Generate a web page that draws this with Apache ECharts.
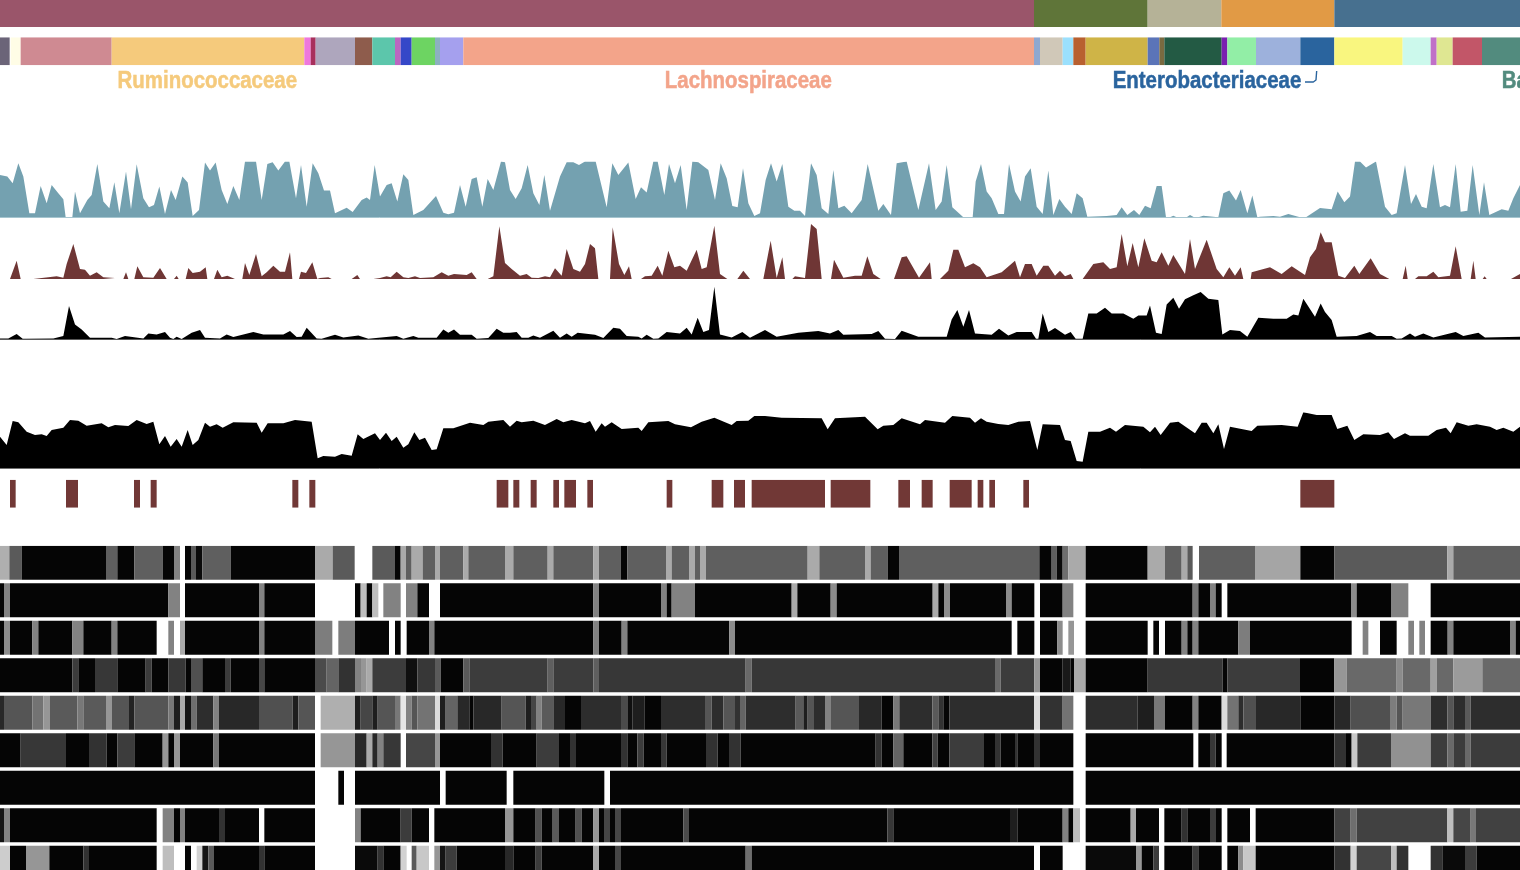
<!DOCTYPE html>
<html><head><meta charset="utf-8">
<style>html,body{margin:0;padding:0;background:#fff;overflow:hidden}#c{width:1520px;height:870px;filter:blur(.55px)}</style>
<script src="https://cdn.jsdelivr.net/npm/echarts@6/dist/echarts.min.js"></script>
</head><body><div id="c"></div>
<script>
const phylumEnds=[3102,3443,3664,4003,4560];
const phylumColors=['#9a556a','#5f7539','#b5b297','#e19a45','#47708f'];
const familySegments=[[0,29],[32,62],[62,335],[335,913],[913,932],[932,947],[947,1065],[1065,1117],[1117,1185],[1185,1202],[1202,1235],[1235,1305],[1305,1320],[1320,1390],[1390,3102],[3102,3120],[3120,3188],[3188,3220],[3220,3257],[3257,3443],[3443,3478],[3478,3493],[3493,3665],[3665,3682],[3682,3768],[3768,3901],[3901,4003],[4003,4208],[4208,4292],[4292,4310],[4310,4358],[4358,4446],[4446,4560]];
const familyColors=['#6b6478','#fffde6','#cf8a92','#f5ca7c','#ee77dd','#a8305c','#aea6bd','#8e5c4c','#5cc6ab','#bb66c0','#3547c8','#6dd462','#8cb0c0','#a5a0ee','#f3a48a','#8fa8d0','#d0c8b8','#9be0fd','#b86030','#cfb447','#5b74b8','#7a6a40','#235a44','#7a20b0','#92eea6','#9db1dc','#2a649e','#f9f67f','#ccf9ec','#c070c8','#dfe792','#c25668','#528b7e'];
const labelNames=['Ruminococcaceae','Lachnospiraceae','Enterobacteriaceae','Ba'];
const labelAnchors=[622,2245,3621,4505];
const labelColors=['#f5ca7c','#f3a48a','#2a649e','#528b7e'];
const labelAligns=['center','center','center','left'];
const hookLine=[[3915,14],[3940,14],[3948,12],[3950,3]];
const tealSeries=[[0,127],[22,122],[38,102],[55,162],[70,122],[88,12],[105,12],[122,94],[140,42],[155,97],[175,72],[190,54],[197,0],[207,null],[217,0],[225,77],[240,12],[262,52],[275,67],[292,160],[310,47],[328,27],[343,105],[358,12],[378,137],[393,24],[410,159],[430,57],[447,30],[462,37],[478,92],[495,10],[513,82],[527,52],[547,122],[563,104],[578,4],[597,22],[615,164],[630,140],[647,164],[665,82],[682,40],[700,94],[718,52],[735,167],[768,167],[785,52],[802,160],[818,165],[835,140],[855,167],[868,167],[888,57],[903,157],[920,32],[938,162],[955,132],[972,80],[990,80],[1005,12],[1040,29],[1058,16],[1085,52],[1100,59],[1110,52],[1124,157],[1140,62],[1160,97],[1175,102],[1192,47],[1210,129],[1225,112],[1240,7],[1270,22],[1308,64],[1330,14],[1345,9],[1362,14],[1380,97],[1397,32],[1415,115],[1430,120],[1447,32],[1463,115],[1480,82],[1503,167],[1515,165],[1530,82],[1547,55],[1565,87],[1583,157],[1600,72],[1618,37],[1633,127],[1650,20],[1680,122],[1700,165],[1720,165],[1737,157],[1755,167],[1787,167],[1820,30],[1837,162],[1855,127],[1885,164],[1907,55],[1923,90],[1940,74],[1960,167],[1973,167],[1993,67],[2007,160],[2025,102],[2042,157],[2060,22],[2077,167],[2095,165],[2125,142],[2145,52],[2162,162],[2180,117],[2197,34],[2213,30],[2229,147],[2245,42],[2263,4],[2280,12],[2297,112],[2313,162],[2330,107],[2347,160],[2365,32],[2383,20],[2400,20],[2415,4],[2433,162],[2450,127],[2465,27],[2485,10],[2500,142],[2515,27],[2533,35],[2555,12],[2585,52],[2603,160],[2635,20],[2650,40],[2673,7],[2690,162],[2720,167],[2755,22],[2787,162],[2807,22],[2825,47],[2840,157],[2857,30],[2890,0],[2904,null],[2918,0],[2927,107],[2943,160],[2960,77],[2975,57],[2995,10],[3012,10],[3027,160],[3045,77],[3062,47],[3075,122],[3092,147],[3110,32],[3128,10],[3145,140],[3160,7],[3178,55],[3195,32],[3215,10],[3230,72],[3248,57],[3262,2],[3320,4],[3350,7],[3365,30],[3382,7],[3402,22],[3418,7],[3435,35],[3452,27],[3470,94],[3485,94],[3498,0],[3504,null],[3510,0],[3520,5],[3530,0],[3545,null],[3560,0],[3570,7],[3582,0],[3588,null],[3595,0],[3610,5],[3640,2],[3655,0],[3670,72],[3688,80],[3708,50],[3722,82],[3742,12],[3757,65],[3772,0],[3780,2],[3820,4],[3840,2],[3865,10],[3900,0],[3918,0],[3960,28],[3995,24],[4013,77],[4033,45],[4050,62],[4065,167],[4080,167],[4098,149],[4128,167],[4155,32],[4175,7],[4190,12],[4215,157],[4233,40],[4248,70],[4265,32],[4280,27],[4300,160],[4320,30],[4335,37],[4350,30],[4367,160],[4382,17],[4402,20],[4418,157],[4438,7],[4452,105],[4468,7],[4505,24],[4525,20],[4540,57],[4560,97]];
const redSeries=[[30,0],[50,55],[62,0],[80,null],[100,0],[103,4],[170,8],[190,4],[200,45],[220,105],[240,30],[255,28],[270,10],[290,20],[310,5],[345,3],[358,null],[370,0],[378,20],[385,0],[394,null],[403,0],[412,38],[430,5],[460,4],[480,33],[500,0],[511,null],[522,0],[530,10],[536,0],[546,null],[557,0],[565,33],[578,18],[600,22],[617,35],[622,0],[632,null],[642,0],[652,28],[665,5],[682,10],[705,0],[716,null],[727,0],[735,48],[748,12],[768,75],[785,8],[800,20],[820,40],[840,22],[855,22],[870,80],[877,0],[887,null],[897,0],[903,22],[918,18],[937,50],[952,0],[960,3],[985,5],[995,0],[1025,null],[1055,0],[1072,12],[1080,0],[1100,null],[1120,0],[1140,3],[1160,8],[1172,5],[1190,22],[1210,5],[1225,3],[1245,8],[1260,3],[1300,5],[1325,20],[1345,10],[1362,15],[1400,12],[1415,20],[1430,0],[1446,null],[1463,0],[1480,8],[1498,158],[1515,48],[1535,30],[1560,10],[1580,15],[1595,4],[1615,3],[1635,8],[1650,5],[1665,32],[1685,10],[1700,90],[1720,30],[1740,22],[1755,45],[1770,105],[1785,92],[1795,0],[1812,null],[1830,0],[1838,155],[1857,45],[1873,12],[1887,38],[1895,0],[1909,null],[1923,0],[1935,8],[1955,10],[1973,40],[1987,10],[2005,85],[2023,35],[2040,40],[2060,25],[2090,88],[2105,30],[2120,35],[2143,160],[2160,15],[2182,0],[2197,null],[2212,0],[2230,25],[2250,0],[2270,null],[2290,0],[2312,115],[2330,3],[2347,65],[2355,0],[2366,null],[2377,0],[2385,8],[2415,3],[2433,165],[2450,150],[2465,0],[2479,null],[2493,0],[2502,58],[2530,4],[2565,10],[2585,10],[2602,68],[2620,15],[2642,0],[2662,null],[2682,0],[2705,65],[2720,68],[2757,4],[2790,50],[2795,0],[2807,null],[2820,0],[2845,25],[2860,88],[2875,88],[2895,35],[2920,47],[2940,35],[2960,5],[3005,20],[3045,55],[3060,5],[3075,45],[3095,45],[3110,10],[3130,40],[3145,40],[3165,10],[3180,25],[3195,8],[3212,15],[3220,0],[3234,null],[3248,0],[3280,45],[3310,50],[3330,30],[3350,35],[3365,135],[3382,38],[3398,108],[3415,35],[3433,122],[3455,55],[3470,50],[3485,80],[3505,40],[3520,72],[3555,15],[3570,120],[3585,30],[3620,118],[3650,30],[3670,5],[3688,35],[3705,10],[3722,35],[3730,0],[3741,null],[3752,0],[3755,20],[3810,35],[3845,15],[3875,38],[3915,12],[3930,65],[3948,90],[3962,140],[3975,110],[3995,110],[4015,10],[4035,3],[4063,40],[4078,15],[4112,62],[4140,15],[4168,0],[4188,null],[4208,0],[4217,40],[4223,0],[4234,null],[4245,0],[4255,8],[4280,8],[4300,22],[4315,5],[4350,10],[4367,98],[4385,0],[4398,null],[4412,0],[4420,55],[4427,0],[4438,null],[4448,0],[4454,8],[4460,0],[4496,null],[4533,0],[4560,15]];
const blackUpper=[[0,3],[25,3],[50,16],[68,2],[80,2],[160,3],[190,10],[207,100],[225,45],[245,30],[270,5],[335,5],[350,1],[375,10],[430,3],[445,18],[470,15],[495,22],[510,5],[520,1],[530,8],[545,1],[575,20],[600,28],[615,5],[660,3],[680,15],[700,7],[760,22],[790,15],[850,15],[870,25],[890,7],[905,8],[920,35],[950,3],[965,2],[1005,14],[1030,6],[1075,12],[1105,2],[1190,10],[1210,2],[1240,10],[1255,5],[1310,5],[1330,30],[1345,20],[1362,30],[1380,14],[1415,14],[1430,2],[1465,4],[1490,32],[1510,20],[1530,20],[1550,22],[1565,5],[1585,5],[1600,12],[1620,5],[1660,26],[1680,5],[1700,18],[1715,8],[1733,20],[1785,14],[1810,4],[1840,35],[1860,32],[1880,10],[1915,8],[1925,3],[1940,14],[1960,2],[1975,3],[2000,22],[2040,18],[2060,35],[2075,15],[2093,65],[2110,22],[2127,28],[2143,158],[2160,15],[2195,6],[2227,22],[2250,5],[2295,28],[2330,8],[2395,20],[2455,25],[2490,18],[2515,28],[2530,14],[2615,16],[2635,25],[2655,2],[2685,1],[2705,26],[2755,8],[2840,8],[2855,60],[2872,88],[2890,38],[2907,88],[2925,18],[2975,14],[2997,32],[3025,12],[3050,22],[3095,22],[3108,2],[3115,2],[3128,78],[3145,22],[3165,34],[3195,14],[3212,22],[3227,2],[3248,2],[3265,78],[3290,78],[3315,95],[3335,78],[3370,78],[3400,62],[3415,72],[3440,72],[3450,102],[3468,20],[3485,16],[3500,105],[3520,125],[3537,92],[3555,120],[3580,132],[3602,142],[3625,122],[3655,118],[3667,15],[3690,28],[3720,25],[3742,8],[3775,65],[3820,62],[3860,62],[3880,75],[3895,72],[3910,122],[3945,68],[3962,108],[3975,82],[3995,58],[4010,8],[4070,10],[4110,22],[4130,10],[4175,10],[4190,2],[4205,3],[4230,18],[4245,8],[4270,18],[4300,6],[4367,22],[4390,10],[4435,20],[4455,6],[4560,8]];
const blackLower=[[0,95],[20,70],[38,142],[55,138],[80,110],[105,100],[125,102],[140,97],[155,115],[190,122],[210,145],[235,143],[260,128],[305,135],[325,123],[345,130],[385,127],[410,145],[440,133],[460,140],[478,72],[495,97],[512,65],[530,88],[545,65],[563,115],[578,70],[595,85],[615,137],[630,125],[650,132],[668,122],[700,138],[770,137],[785,107],[803,135],[850,135],[885,145],[935,140],[953,30],[970,37],[1005,35],[1025,43],[1055,38],[1073,102],[1090,88],[1125,105],[1140,85],[1158,107],[1175,82],[1190,95],[1210,62],[1225,72],[1243,108],[1258,85],[1275,92],[1295,55],[1310,57],[1330,120],[1360,120],[1410,137],[1450,130],[1465,140],[1510,145],[1530,125],[1550,143],[1565,138],[1600,143],[1635,130],[1670,148],[1690,138],[1715,145],[1755,135],[1770,142],[1787,110],[1805,135],[1815,125],[1835,138],[1865,118],[1915,122],[1925,112],[1945,138],[2005,142],[2025,132],[2073,123],[2105,140],[2143,152],[2195,130],[2210,142],[2245,143],[2263,157],[2295,157],[2345,152],[2465,150],[2483,117],[2505,150],[2595,155],[2633,117],[2650,128],[2680,130],[2705,150],[2760,132],[2775,145],[2835,137],[2857,157],[2910,152],[2925,137],[2943,150],[2960,140],[2995,133],[3025,130],[3055,140],[3090,142],[3112,55],[3128,132],[3180,130],[3195,85],[3212,82],[3230,22],[3248,20],[3265,110],[3300,110],[3330,122],[3348,110],[3375,130],[3430,125],[3450,108],[3465,125],[3482,100],[3510,137],[3535,140],[3585,105],[3605,137],[3620,137],[3640,105],[3655,132],[3672,58],[3690,125],[3755,112],[3772,128],[3845,130],[3893,125],[3910,168],[3950,160],[3995,160],[4012,118],[4042,128],[4063,85],[4090,102],[4140,100],[4165,108],[4182,88],[4215,105],[4230,98],[4285,98],[4310,115],[4338,122],[4352,105],[4370,138],[4405,128],[4430,132],[4470,125],[4490,115],[4510,122],[4540,110],[4560,125]];
const tickRanges=[[30,47],[198,234],[402,420],[452,470],[877,895],[928,946],[1490,1525],[1540,1558],[1592,1610],[1660,1677],[1693,1728],[1762,1779],[2000,2017],[2135,2170],[2202,2235],[2255,2475],[2492,2611],[2695,2730],[2765,2798],[2849,2915],[2933,2950],[2968,2985],[3070,3087],[3901,4003]];
const row1=[[0,28,175],[28,65,90],[65,318,5],[318,352,95],[352,403,5],[403,488,95],[488,522,5],[522,540,130],[555,573,5],[573,588,90],[588,607,10],[607,692,95],[692,945,5],[945,998,170],[998,1064,90],[1117,1185,90],[1185,1202,5],[1202,1218,170],[1218,1235,95],[1235,1268,170],[1268,1305,95],[1305,1320,170],[1320,1390,95],[1390,1405,170],[1405,1515,95],[1515,1540,170],[1540,1643,95],[1643,1660,170],[1660,1780,95],[1780,1797,170],[1797,1862,95],[1862,1882,5],[1882,1998,95],[1998,2015,170],[2015,2067,95],[2067,2085,170],[2085,2100,95],[2100,2118,170],[2118,2423,95],[2423,2458,170],[2458,2595,95],[2595,2612,170],[2612,2663,95],[2663,2697,5],[2697,3118,95],[3118,3155,5],[3155,3170,95],[3170,3188,10],[3188,3205,110],[3205,3257,170],[3257,3443,5],[3443,3495,170],[3495,3545,95],[3545,3562,170],[3562,3578,90],[3597,3765,95],[3765,3901,165],[3901,4003,5],[4003,4342,90],[4342,4360,170],[4360,4560,95]];
const row2=[[0,12,5],[12,30,130],[30,505,5],[505,540,130],[555,777,5],[777,793,130],[793,945,5],[1065,1082,5],[1082,1100,190],[1100,1117,5],[1117,1135,190],[1150,1202,130],[1218,1252,130],[1252,1287,5],[1320,1780,5],[1780,1797,130],[1797,1983,5],[1983,2000,130],[2000,2015,5],[2015,2085,130],[2085,2375,5],[2375,2392,170],[2392,2492,5],[2492,2510,140],[2510,2798,5],[2798,2815,170],[2815,2832,5],[2832,2850,140],[2850,3018,5],[3018,3035,140],[3035,3103,5],[3120,3188,5],[3188,3220,130],[3257,3578,5],[3578,3595,120],[3595,3630,5],[3630,3647,130],[3647,3665,5],[3682,4053,5],[4053,4070,140],[4070,4173,5],[4173,4225,130],[4292,4560,5]];
const row3=[[0,12,5],[12,30,140],[30,97,5],[97,115,130],[115,217,5],[217,250,130],[250,335,5],[335,352,130],[352,470,5],[505,522,130],[540,555,170],[555,777,5],[777,793,130],[793,945,5],[945,997,125],[1015,1065,125],[1065,1167,5],[1185,1202,5],[1220,1287,5],[1287,1303,130],[1303,1780,5],[1780,1797,130],[1797,1865,5],[1865,1882,130],[1882,2188,5],[2188,2205,140],[2205,3035,5],[3052,3103,5],[3120,3172,5],[3172,3188,140],[3205,3222,150],[3257,3443,5],[3460,3477,5],[3495,3545,5],[3545,3562,130],[3562,3578,5],[3578,3595,130],[3595,3715,5],[3715,3750,125],[3750,4055,5],[4088,4105,130],[4140,4190,5],[4225,4242,130],[4258,4275,130],[4292,4343,5],[4343,4360,130],[4360,4530,5],[4530,4547,130],[4547,4560,5]];
const row4=[[0,217,5],[217,235,60],[235,285,5],[285,352,55],[352,437,5],[437,455,60],[455,505,5],[505,557,55],[557,573,5],[573,607,80],[607,675,5],[675,692,60],[692,777,5],[777,793,70],[793,945,5],[945,980,75],[980,1015,100],[1015,1065,50],[1065,1083,130],[1083,1100,150],[1100,1117,170],[1117,1218,60],[1218,1252,15],[1252,1305,55],[1305,1322,90],[1322,1390,5],[1390,1408,90],[1408,1643,60],[1643,1660,95],[1660,1780,60],[1780,1797,95],[1797,2237,55],[2237,2255,105],[2255,2985,55],[2985,3002,105],[3002,3103,60],[3103,3120,150],[3120,3188,5],[3188,3212,25],[3212,3222,5],[3222,3257,170],[3257,3443,5],[3443,3668,55],[3668,3682,5],[3682,3900,60],[3900,4003,5],[4003,4040,150],[4040,4190,105],[4190,4208,140],[4208,4292,105],[4292,4310,160],[4310,4360,105],[4360,4447,155],[4447,4560,105]];
const row5=[[0,12,40],[12,97,85],[97,130,115],[130,150,150],[150,232,90],[232,250,120],[250,318,90],[318,335,150],[335,387,85],[387,403,35],[403,505,85],[505,522,120],[522,540,30],[540,555,170],[555,573,20],[573,590,110],[590,640,45],[640,657,130],[657,777,40],[777,878,80],[878,895,30],[895,945,85],[962,1065,175],[1065,1082,30],[1082,1117,70],[1117,1133,30],[1133,1185,85],[1185,1202,120],[1202,1218,230],[1218,1235,130],[1235,1252,85],[1252,1305,115],[1305,1320,220],[1320,1337,30],[1337,1372,100],[1372,1408,40],[1408,1420,5],[1420,1505,40],[1505,1577,85],[1577,1593,30],[1593,1610,70],[1610,1625,130],[1625,1660,90],[1660,1695,40],[1695,1743,5],[1743,1863,45],[1863,1882,75],[1882,1898,15],[1898,1933,30],[1933,1983,5],[1983,2115,45],[2115,2135,85],[2135,2170,45],[2170,2205,85],[2205,2220,50],[2220,2237,100],[2237,2387,45],[2387,2410,90],[2410,2423,30],[2423,2442,85],[2442,2475,45],[2475,2493,130],[2493,2577,85],[2577,2645,40],[2645,2680,5],[2680,2698,120],[2698,2797,45],[2797,2815,90],[2815,2830,50],[2830,2848,5],[2848,3102,45],[3102,3120,220],[3120,3188,50],[3188,3220,115],[3257,3412,45],[3412,3462,30],[3462,3495,120],[3495,3578,5],[3578,3595,130],[3595,3665,5],[3665,3682,220],[3682,3715,115],[3715,3730,45],[3730,3768,80],[3768,3901,40],[3901,4003,5],[4003,4052,40],[4052,4170,80],[4170,4190,125],[4190,4208,85],[4208,4292,120],[4292,4342,45],[4342,4360,85],[4360,4395,45],[4395,4412,90],[4412,4560,45]];
const row6=[[0,62,5],[62,198,55],[198,267,5],[267,320,50],[320,352,5],[352,403,60],[403,488,5],[488,505,150],[505,522,5],[522,540,150],[540,640,5],[640,657,120],[657,945,5],[962,1065,150],[1065,1100,40],[1100,1117,170],[1117,1133,40],[1133,1150,130],[1150,1202,55],[1218,1305,70],[1305,1320,150],[1320,1473,5],[1473,1508,50],[1508,1610,5],[1610,1677,60],[1677,1710,5],[1710,1728,50],[1728,1863,5],[1863,1882,50],[1882,1912,5],[1912,1931,60],[1931,1983,5],[1983,2000,55],[2000,2118,5],[2118,2153,50],[2153,2187,5],[2187,2222,50],[2222,2627,5],[2627,2645,50],[2645,2680,5],[2680,2710,100],[2710,2797,5],[2797,2813,65],[2813,2848,5],[2848,2952,60],[2952,2985,5],[2985,3002,50],[3002,3045,5],[3045,3052,50],[3052,3102,5],[3102,3120,50],[3120,3220,5],[3257,3580,5],[3595,3630,5],[3630,3647,55],[3647,3665,5],[3680,4003,5],[4003,4038,50],[4038,4055,5],[4055,4072,200],[4072,4173,60],[4173,4292,145],[4292,4342,60],[4342,4360,105],[4360,4395,60],[4395,4412,105],[4412,4560,60]];
const row7=[[0,945,5],[1015,1032,5],[1065,1320,5],[1337,1520,5],[1540,1813,5],[1830,3220,5],[3257,4560,5]];
const row8=[[0,12,20],[12,30,130],[30,470,5],[488,522,130],[522,540,5],[540,555,130],[555,657,5],[657,675,50],[675,777,5],[793,945,5],[1065,1082,130],[1082,1202,5],[1202,1235,60],[1235,1287,5],[1303,1515,5],[1515,1540,150],[1540,1607,5],[1607,1625,80],[1625,1658,5],[1658,1677,90],[1677,1727,5],[1727,1745,80],[1745,1780,5],[1780,1797,150],[1797,1812,5],[1812,1830,70],[1830,1845,5],[1845,1863,70],[1863,2050,5],[2050,2067,75],[2067,2662,5],[2662,2680,55],[2680,3030,5],[3030,3052,30],[3052,3188,5],[3188,3205,130],[3205,3220,5],[3220,3240,190],[3257,3392,5],[3392,3408,170],[3408,3477,5],[3493,3545,5],[3545,3562,50],[3562,3630,5],[3630,3648,60],[3648,3665,5],[3682,3750,5],[3767,4003,5],[4003,4052,65],[4052,4070,110],[4070,4342,65],[4342,4360,190],[4360,4412,70],[4412,4428,120],[4428,4560,65]];
const row9=[[0,30,205],[30,78,5],[78,148,150],[148,250,5],[250,267,50],[267,470,5],[488,522,190],[555,573,5],[590,607,210],[607,625,20],[625,642,90],[642,777,5],[777,793,50],[793,945,5],[1065,1133,10],[1133,1150,50],[1150,1202,5],[1202,1220,210],[1235,1250,90],[1250,1287,200],[1303,1320,150],[1320,1337,20],[1337,1370,60],[1370,1515,5],[1515,1540,40],[1540,1607,5],[1607,1625,60],[1625,1780,5],[1780,1797,170],[1797,1845,5],[1845,1863,70],[1863,2237,5],[2237,2255,110],[2255,3102,5],[3120,3188,5],[3257,3408,10],[3408,3425,150],[3425,3460,5],[3460,3477,60],[3493,3578,5],[3578,3595,60],[3595,3665,5],[3682,3715,5],[3715,3730,140],[3730,3767,200],[3767,4003,5],[4003,4052,50],[4052,4070,210],[4070,4173,70],[4173,4190,190],[4190,4225,50],[4292,4327,50],[4327,4395,10],[4395,4430,60],[4430,4560,5]];
const heatRows=[row1,row2,row3,row4,row5,row6,row7,row8,row9];

const XMAX=4560;
const tracks=[
 {top:0,h:27,ymax:1},{top:37.3,h:28,ymax:1},{top:68,h:24,ymax:24,inv:true},
 {top:161.6,h:55.7,ymax:167,line:'#a9c8d2'},{top:224,h:55,ymax:165},
 {top:286.7,h:52.7,ymax:158,line:'#777777'},{top:412.3,h:56,ymax:168,line:'#777777'},
 {top:479.7,h:28,ymax:1},{top:545.8,h:324.2,ymax:324.2/37.5,inv:true}];
const grid=tracks.map(t=>({left:0,width:1520,top:t.top,height:t.h,containLabel:false}));
const xAxis=tracks.map((t,i)=>({gridIndex:i,type:'value',min:0,max:XMAX,show:!!t.line,splitLine:{show:false},axisTick:{show:false},axisLabel:{show:false},axisLine:{show:!!t.line,onZero:false,lineStyle:{color:t.line||'#000',width:1}}}));
const yAxis=tracks.map((t,i)=>({gridIndex:i,type:'value',min:0,max:t.ymax,inverse:!!t.inv,show:false,splitLine:{show:false}}));
function rectRender(yFn,fillFn){return function(p,api){
  const s=api.value(0),e=api.value(1),v=api.value(2);
  const [y0,y1]=yFn(v);
  const a=api.coord([s,y0]),b=api.coord([e,y1]);
  return {type:'rect',shape:{x:a[0],y:Math.min(a[1],b[1]),width:b[0]-a[0],height:Math.abs(b[1]-a[1])},style:{fill:fillFn(v,api)}};
};}
function segSeries(i,data,yFn,fillFn){return {type:'custom',xAxisIndex:i,yAxisIndex:i,data,renderItem:rectRender(yFn,fillFn),silent:true,animation:false,clip:true};}
function area(i,data,color){return {type:'line',xAxisIndex:i,yAxisIndex:i,data,showSymbol:false,symbol:'none',connectNulls:false,lineStyle:{width:0},areaStyle:{color,opacity:1},itemStyle:{color},silent:true,animation:false};}
const phylumData=phylumEnds.map((e,i)=>[i?phylumEnds[i-1]:0,e,i]);
const familyData=familySegments.map((s,i)=>[s[0],s[1],i]);
const heatData=[];heatRows.forEach((r,i)=>r.forEach(c=>heatData.push([c[0],c[1],c[2],i])));
const series=[
 segSeries(0,phylumData,()=>[0,1],v=>phylumColors[v]),
 segSeries(1,familyData,()=>[0,1],v=>familyColors[v]),
 {type:'custom',xAxisIndex:2,yAxisIndex:2,silent:true,animation:false,clip:false,
  data:labelAnchors.map((x,i)=>[x,13.6,i]),
  renderItem:(p,api)=>{const i=api.value(2),c=api.coord([api.value(0),api.value(1)]);
   return {type:'text',x:c[0],y:c[1],scaleX:0.87,style:{x:0,y:0,text:labelNames[i],fill:labelColors[i],stroke:labelColors[i],lineWidth:0.5,font:'bold 23.5px "Liberation Sans",sans-serif',textAlign:labelAligns[i],textVerticalAlign:'middle'}};}},
 {type:'line',xAxisIndex:2,yAxisIndex:2,data:hookLine,symbol:'none',lineStyle:{color:'#2a649e',width:1.4},silent:true,animation:false},
 area(3,tealSeries,'#74a1b0'),
 area(4,redSeries,'#6f3635'),
 area(5,blackUpper,'#000000'),
 area(6,blackLower,'#000000'),
 segSeries(7,tickRanges.map(r=>[r[0],r[1],0]),()=>[0,1],()=>'#713836'),
 {type:'custom',xAxisIndex:8,yAxisIndex:8,data:heatData,silent:true,animation:false,clip:true,
  renderItem:(p,api)=>{const r=api.value(3),g=api.value(2);
   const a=api.coord([api.value(0),r]),b=api.coord([api.value(1),r+34/37.5]);
   return {type:'rect',shape:{x:a[0],y:a[1],width:b[0]-a[0],height:b[1]-a[1]},style:{fill:`rgb(${g},${g},${g})`}};}}
];
const chart=echarts.init(document.getElementById('c'),null,{renderer:'canvas',width:1520,height:870});
chart.setOption({animation:false,backgroundColor:'#ffffff',grid,xAxis,yAxis,series,tooltip:{show:false},legend:{show:false}});
</script></body></html>
